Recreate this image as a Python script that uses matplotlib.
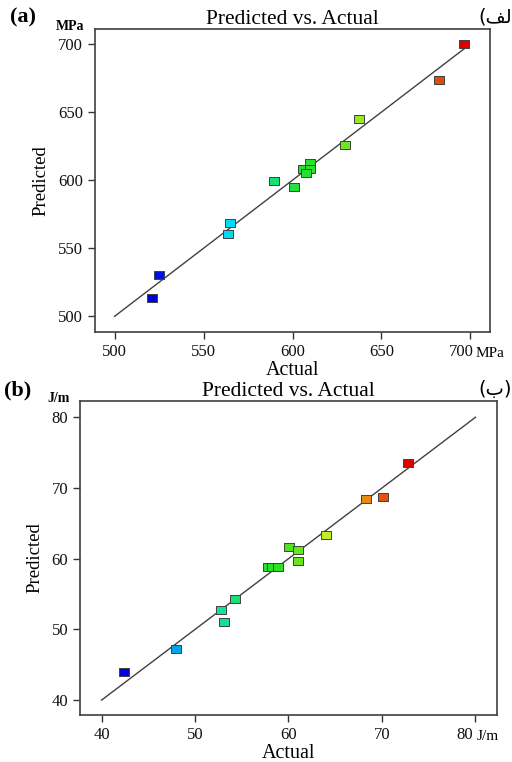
import matplotlib
matplotlib.use("Agg")
import matplotlib.pyplot as plt
from matplotlib.colors import LinearSegmentedColormap, Normalize
from matplotlib.path import Path
from matplotlib.transforms import ScaledTranslation, blended_transform_factory

# Panel (a): tensile strength, MPa
actual_a = [524.8, 520.9, 564.8, 563.8, 589.6, 600.6, 606.0, 609.6, 610.0, 607.7, 629.5, 637.2, 682.5, 696.5]
pred_a = [530.1, 513.5, 568.6, 560.8, 599.3, 595.1, 608.1, 612.7, 608.1, 604.9, 626.0, 644.9, 673.5, 700.0]
ticks_a = [500, 550, 600, 650, 700]
line_a = [500, 698]

# Panel (b): impact strength, J/m
actual_b = [42.4, 48.0, 52.75, 53.1, 54.25, 57.86, 58.2, 58.9, 60.1, 61.0, 61.0, 64.0, 68.3, 70.1, 72.8]
pred_b = [44.0, 47.2, 52.8, 51.1, 54.3, 58.8, 58.8, 58.8, 61.7, 61.2, 59.7, 63.4, 68.4, 68.7, 73.6]
ticks_b = [40, 50, 60, 70, 80]
line_b = [40, 80]

cmap = LinearSegmentedColormap.from_list(
    "de", [(0.0, "#0000e0"), (0.25, "#00e0f0"), (0.45, "#22e040"), (0.55, "#30e020"),
           (0.75, "#e8f020"), (1.0, "#e00000")])

rect = Path([(-1, -0.7), (1, -0.7), (1, 0.7), (-1, 0.7), (-1, -0.7)],
            [Path.MOVETO, Path.LINETO, Path.LINETO, Path.LINETO, Path.CLOSEPOLY])

serif = "Liberation Serif"
plt.rcParams["font.family"] = [serif, "DejaVu Sans"]

fig = plt.figure(figsize=(5.12, 7.62), dpi=100)

def panel(rect_ax, actual, pred, ticks, line, xlim, ylim, unit, tag, arabic, ar_y,
          unit_xy, tag_xy, xunit, xunit_x, shift):
    ax = fig.add_axes(rect_ax)
    ax.plot(line, line, color="#404040", lw=1.0, zorder=1)
    norm = Normalize(min(actual), max(actual))
    for x, y in zip(actual, pred):
        ax.plot([x], [y], marker=rect, markersize=7.5, linestyle="none",
                markerfacecolor=cmap(norm(x)), markeredgecolor="#404040",
                markeredgewidth=0.7, zorder=3)
    ax.set_xlim(*xlim)
    ax.set_ylim(*ylim)
    ax.set_xticks(ticks)
    ax.set_yticks(ticks)
    ax.tick_params(direction="out", length=5, width=1, labelsize=12, colors="#333333")
    for lab in ax.get_xticklabels() + ax.get_yticklabels():
        lab.set_color("#111111")
    last = ax.get_xticklabels()[-1]
    last.set_transform(last.get_transform() + ScaledTranslation(-shift / 100, 0, fig.dpi_scale_trans))
    for s in ax.spines.values():
        s.set_color("#404040")
        s.set_linewidth(1.2)
    ax.set_title("Predicted vs. Actual", fontsize=15.5, pad=3)
    ax.set_xlabel("Actual", fontsize=14.5, labelpad=1)
    ax.set_ylabel("Predicted", fontsize=13.5, labelpad=6)
    fig.text(tag_xy[0] / 512, 1 - tag_xy[1] / 762, tag, fontsize=16, fontweight="bold",
             ha="left", va="center")
    fig.text(unit_xy[0] / 512, 1 - unit_xy[1] / 762, unit, fontsize=10, fontweight="bold",
             ha="left", va="center")
    fig.text(478 / 512, 1 - ar_y / 762, arabic, fontsize=14, ha="left", va="center",
             family=["DejaVu Sans"])
    ax.text(xunit_x / 512, -0.048, xunit,
            transform=blended_transform_factory(fig.transFigure, ax.transAxes),
            fontsize=11, ha="left", va="top")
    return ax

ax1 = panel([95 / 512, 1 - 332 / 762, 395 / 512, 303 / 762], actual_a, pred_a, ticks_a, line_a,
            (489, 711), (488.5, 711), "MPa", "(a)", "(\ufed2\ufedf\ufe8d)", 17,
            (56, 26), (10, 17), "MPa", 476, 9)

ax2 = panel([80 / 512, 1 - 715 / 762, 417 / 512, 314 / 762], actual_b, pred_b, ticks_b, line_b,
            (37.7, 82.3), (37.9, 82.3), "J/m", "(b)", "(\ufe8f)", 390,
            (47, 398), (4, 390), "J/m", 477, 11)

fig.savefig("out.png", dpi=100)
